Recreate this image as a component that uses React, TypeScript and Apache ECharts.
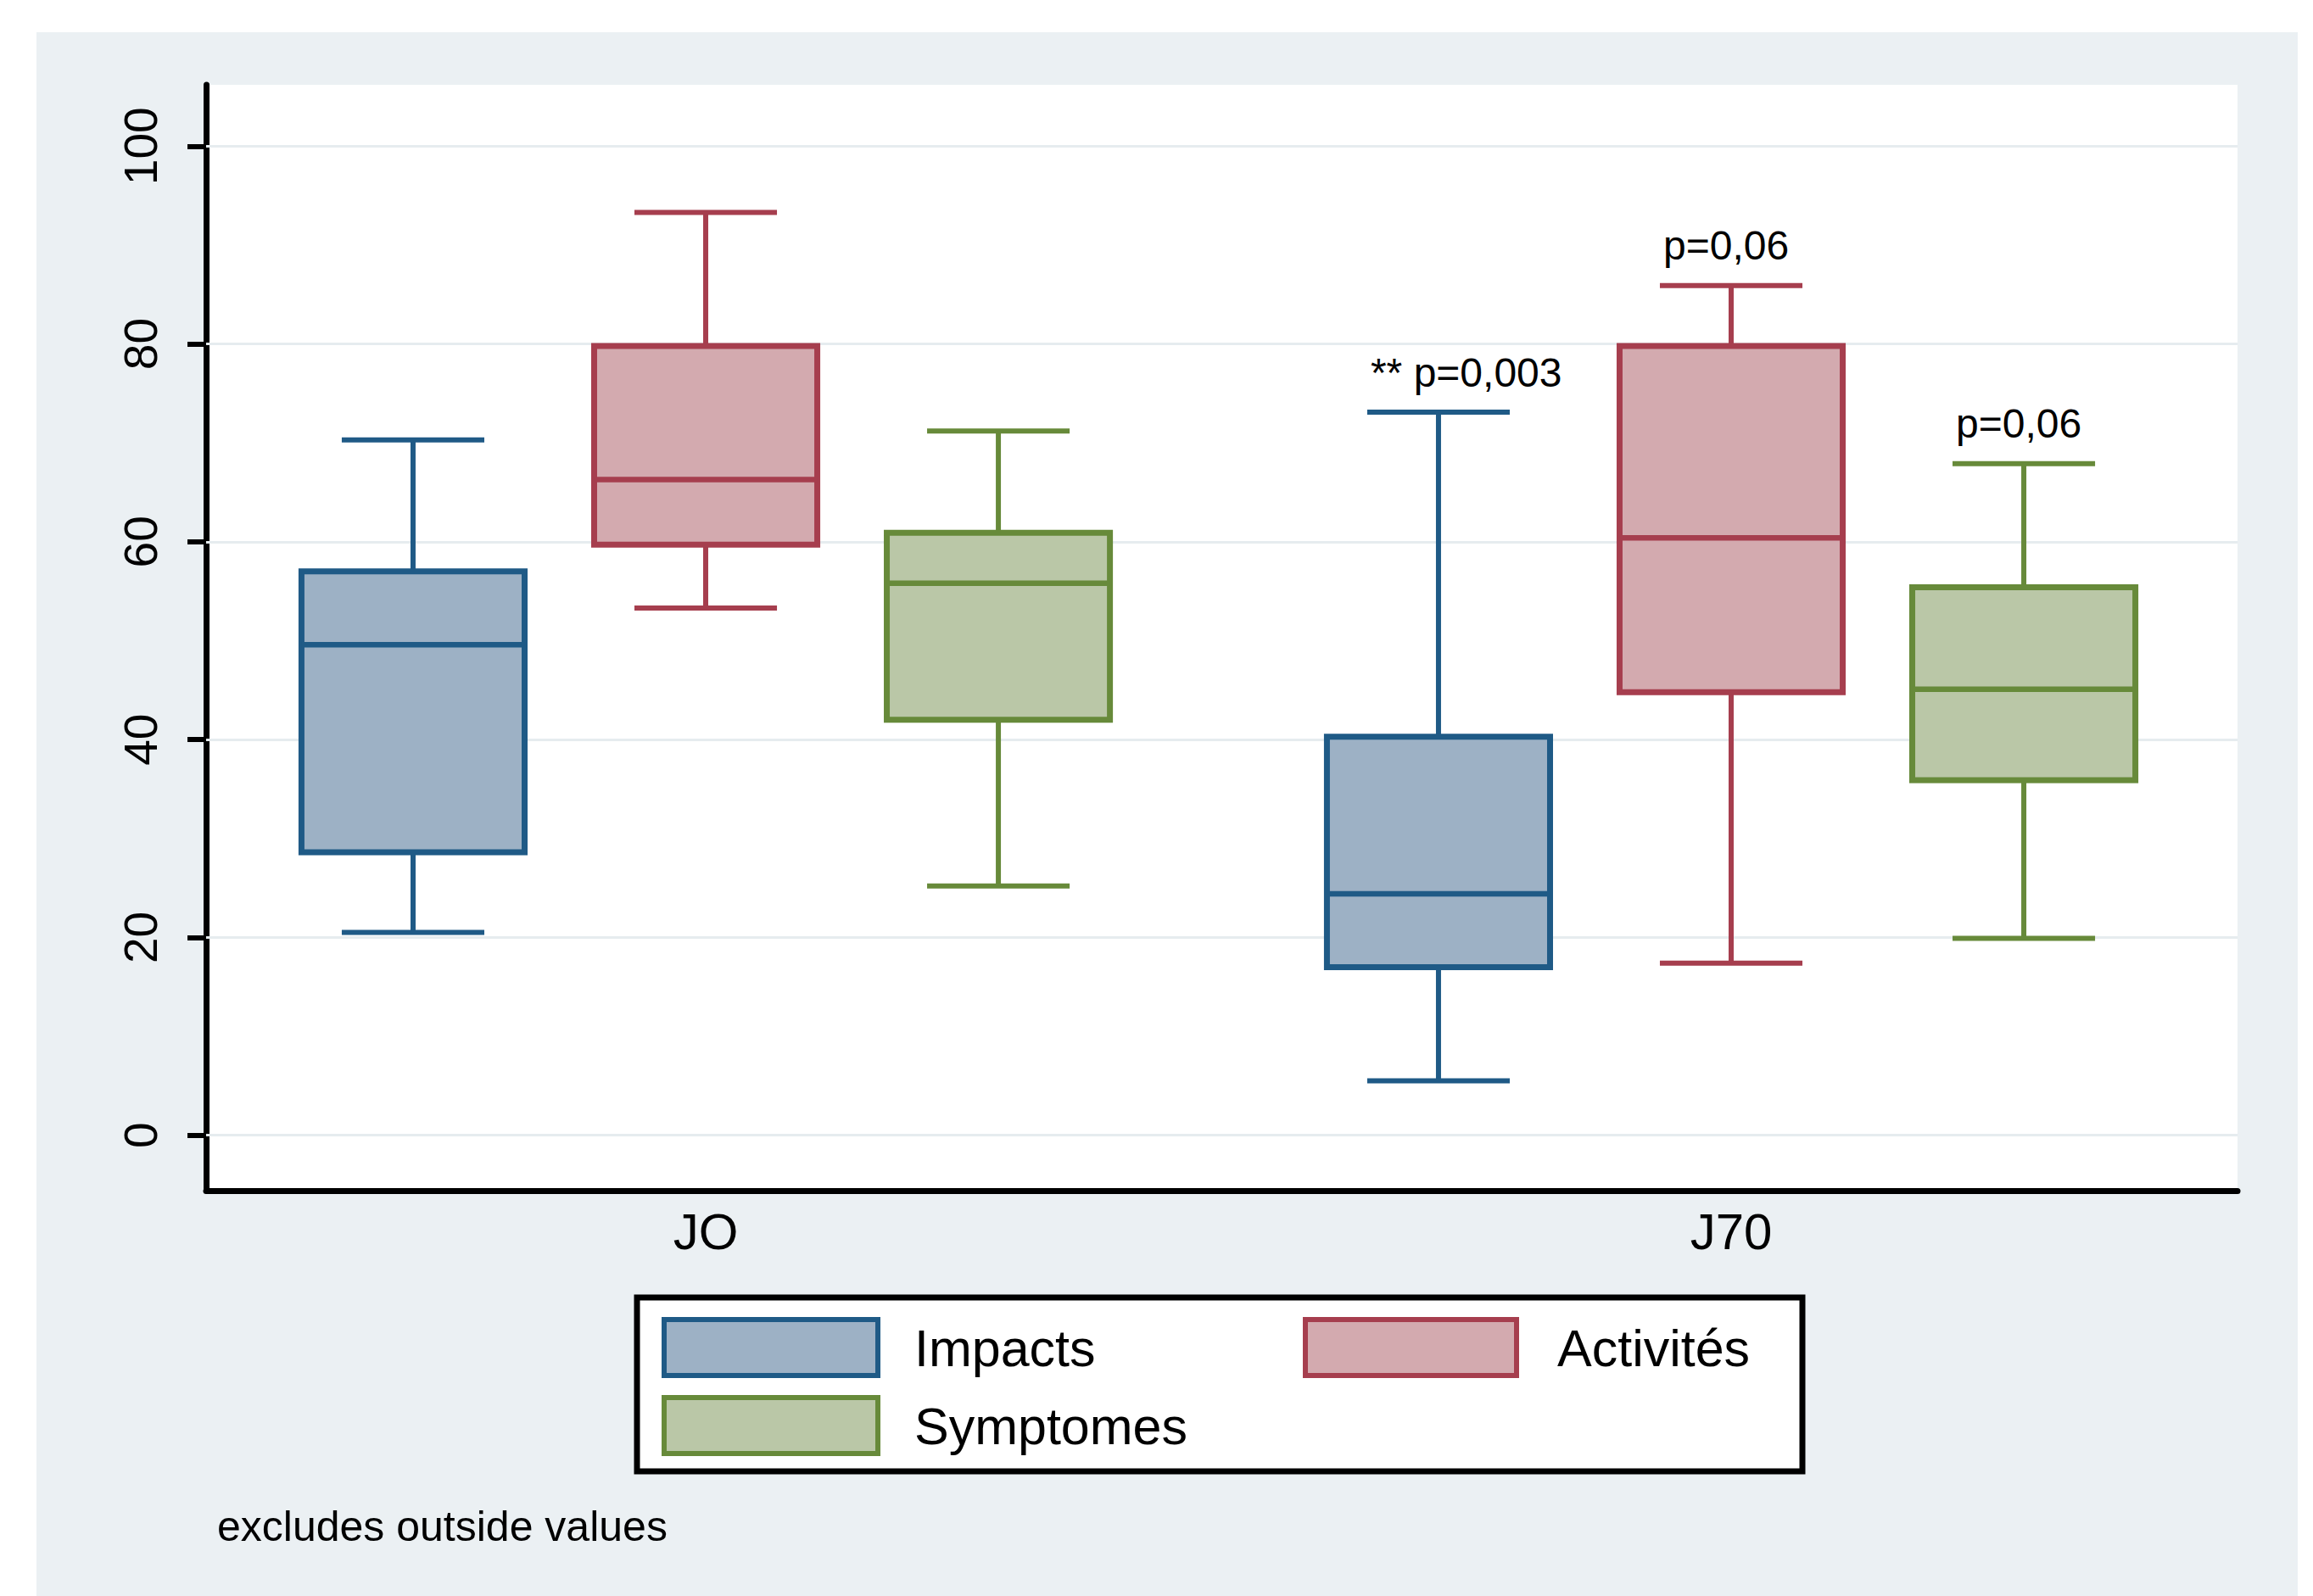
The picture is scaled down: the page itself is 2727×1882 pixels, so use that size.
import React, { useEffect, useRef } from "react";
import * as echarts from "echarts";

// ---- data ----
const categories = ["JO", "J70"];
const seriesNames = ["Impacts", "Activités", "Symptomes"];
// per category: [lower whisker, Q1, median, Q3, upper whisker]
const impacts = [
  [20.5, 28.6, 49.6, 57.0, 70.3],
  [5.5, 17.0, 24.4, 40.3, 73.1],
];
const activites = [
  [53.3, 59.7, 66.3, 79.8, 93.3],
  [17.4, 44.8, 60.4, 79.8, 85.9],
];
const symptomes = [
  [25.2, 42.0, 55.8, 60.9, 71.2],
  [19.9, 35.9, 45.1, 55.4, 67.9],
];
const impactsNotes = ["", "** p=0,003"];
const activitesNotes = ["", "p=0,06"];
const symptomesNotes = ["", "p=0,06"];
const yTicks = [0, 20, 40, 60, 80, 100];
const categoryPositions = [0, 1];
const footnote = "excludes outside values";

// ---- styles ----
const FONT = "'Liberation Sans', Arial, Helvetica, sans-serif";
const fills = ["#9DB1C5", "#D3AAAF", "#BAC7A7"];
const strokes = ["#1F5A86", "#A63E4E", "#678A3A"];
const offsets = [-0.2854, 0, 0.2854];
const BOX_HALF = 0.1088;
const CAP_HALF = 0.0695;
const PANEL = "#EBF0F3";

function makeRender(idx: number, notes: string[]) {
  return (params: any, api: any) => {
    const cat = api.value(0);
    const unit = api.size([1, 0])[0];
    const cx = api.coord([cat, 0])[0] + offsets[idx] * unit;
    const y = (v: number) => api.coord([cat, v])[1];
    const yLow = y(api.value(1));
    const yQ1 = y(api.value(2));
    const yMed = y(api.value(3));
    const yQ3 = y(api.value(4));
    const yHigh = y(api.value(5));
    const hb = unit * BOX_HALF;
    const hc = unit * CAP_HALF;
    const stroke = strokes[idx];
    const fill = fills[idx];
    const ls = { stroke, lineWidth: 6 };
    const children: any[] = [
      { type: "line", shape: { x1: cx, y1: yQ3, x2: cx, y2: yHigh }, style: ls },
      { type: "line", shape: { x1: cx - hc, y1: yHigh, x2: cx + hc, y2: yHigh }, style: ls },
      { type: "line", shape: { x1: cx, y1: yQ1, x2: cx, y2: yLow }, style: ls },
      { type: "line", shape: { x1: cx - hc, y1: yLow, x2: cx + hc, y2: yLow }, style: ls },
      {
        type: "rect",
        shape: { x: cx - hb, y: yQ3, width: 2 * hb, height: yQ1 - yQ3 },
        style: { fill, stroke, lineWidth: 7 },
      },
      { type: "line", shape: { x1: cx - hb, y1: yMed, x2: cx + hb, y2: yMed }, style: { stroke, lineWidth: 6.5 } },
    ];
    const note = notes[params.dataIndex];
    if (note) {
      children.push({
        type: "text",
        x: cx - hc + 4,
        y: yHigh - 47,
        style: {
          text: note,
          fill: "#000",
          fontSize: 48,
          fontFamily: FONT,
          align: "left",
          verticalAlign: "middle",
          textAlign: "left",
          textVerticalAlign: "middle",
        },
      });
    }
    return { type: "group", children };
  };
}

function toRows(arr: number[][]) {
  return arr.map((r, i) => [categoryPositions[i], ...r]);
}

export default function App() {
  const ref = useRef<HTMLDivElement>(null);
  useEffect(() => {
    if (!ref.current) return;
    const chart = echarts.init(ref.current, null, { renderer: "svg" });
    const allData = [impacts, activites, symptomes];
    const allNotes = [impactsNotes, activitesNotes, symptomesNotes];

    const series: any[] = allData.map((d, i) => ({
      type: "custom",
      name: seriesNames[i],
      z: 3,
      renderItem: makeRender(i, allNotes[i]),
      encode: { x: 0, y: [1, 2, 3, 4, 5] },
      data: toRows(d),
      silent: true,
      ...(i === 0
        ? {
            markLine: {
              z: 1,
              silent: true,
              symbol: ["none", "none"],
              label: { show: false },
              lineStyle: { color: "#E6ECEF", width: 3, type: "solid" },
              data: yTicks.map((v) => ({ yAxis: v })),
            },
          }
        : {}),
    }));

    const textStyle = (t: string, x: number, yy: number, size: number) => ({
      type: "text",
      x,
      y: yy,
      style: {
        text: t,
        fill: "#000",
        fontSize: size,
        fontFamily: FONT,
        align: "left",
        verticalAlign: "middle",
        textAlign: "left",
        textVerticalAlign: "middle",
      },
    });

    const legendIcon = (x: number, yy: number, w: number, i: number) => ({
      type: "rect",
      shape: { x, y: yy, width: w, height: 66 },
      style: { fill: fills[i], stroke: strokes[i], lineWidth: 6 },
    });

    chart.setOption({
      animation: false,
      backgroundColor: PANEL,
      grid: {
        left: 243,
        right: 89,
        top: 100,
        bottom: 478,
        show: true,
        backgroundColor: "#FFFFFF",
        borderWidth: 0,
      },
      xAxis: {
        type: "value",
        min: -0.4872,
        max: 1.4938,
        axisLine: { onZero: false, lineStyle: { color: "#000", width: 7 } },
        axisTick: { show: false },
        axisLabel: {
          customValues: categoryPositions,
          formatter: (v: number) => categories[Math.round(v)] ?? "",
          color: "#000",
          fontSize: 60,
          fontFamily: FONT,
          margin: 18,
        },
        splitLine: { show: false },
      },
      yAxis: {
        type: "value",
        min: -5.6,
        max: 106.2,
        axisLine: { show: true, onZero: false, lineStyle: { color: "#000", width: 7 } },
        axisTick: {
          show: true,
          customValues: yTicks,
          length: 22,
          lineStyle: { color: "#000", width: 6 },
        },
        axisLabel: {
          customValues: yTicks,
          rotate: 90,
          color: "#000",
          fontSize: 55,
          fontFamily: FONT,
          margin: 50,
        },
        splitLine: { show: false },
      },
      graphic: [
        { type: "rect", shape: { x: 0, y: 0, width: 2727, height: 38 }, style: { fill: "#fff" } },
        { type: "rect", shape: { x: 0, y: 0, width: 43, height: 1882 }, style: { fill: "#fff" } },
        { type: "rect", shape: { x: 2709, y: 0, width: 18, height: 1882 }, style: { fill: "#fff" } },
        {
          type: "rect",
          shape: { x: 751, y: 1530, width: 1374, height: 205 },
          style: { fill: "#fff", stroke: "#000", lineWidth: 7 },
        },
        legendIcon(783, 1556, 252, 0),
        legendIcon(1539, 1556, 249, 1),
        legendIcon(783, 1648, 252, 2),
        textStyle(seriesNames[0], 1078, 1590, 61),
        textStyle(seriesNames[1], 1836, 1590, 61),
        textStyle(seriesNames[2], 1078, 1682, 61),
        textStyle(footnote, 256, 1800, 50),
      ],
      series,
    });
    return () => chart.dispose();
  }, []);

  return (
    <div
      ref={ref}
      style={{ position: "fixed", left: 0, top: 0, width: 2727, height: 1882 }}
    />
  );
}
